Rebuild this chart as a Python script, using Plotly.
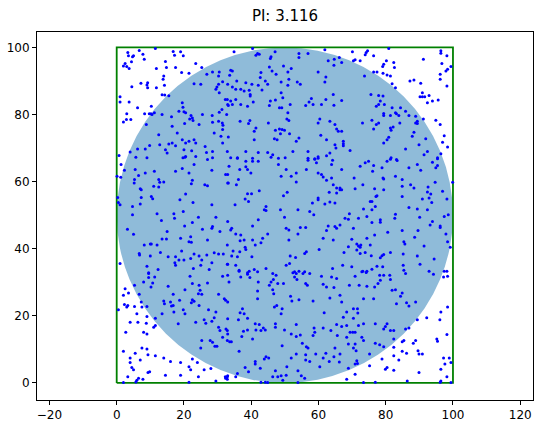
import plotly.graph_objects as go

title_text = "PI: 3.116"
square_x = [0, 100, 100, 0, 0]
square_y = [0, 0, 100, 100, 0]
circle_center = (50, 50)
circle_radius = 50
x_ticks = [-20, 0, 20, 40, 60, 80, 100, 120]
y_ticks = [0, 20, 40, 60, 80, 100]

points = [
# top-left
(11.5,99.7),(16.8,98.8),(19.0,98.7),(6.7,99.1),(3.3,98.5),(3.5,97.5),(5.0,97.5),(4.7,97.2),(7.8,98.0),(17.2,97.7),
(19.8,97.5),(8.2,96.5),(4.4,95.7),(2.5,95.2),(2.0,94.5),(3.0,94.3),(3.7,93.7),(11.8,93.7),(14.5,95.8),(14.8,94.0),
(17.5,94.0),(23.5,95.2),(25.3,94.0),(21.5,92.3),(19.3,92.5),(14.0,91.5),(13.8,90.5),(26.8,92.0),(28.5,92.7),(30.5,92.7),
(30.3,91.5),(31.5,89.8),(30.3,89.0),(29.8,88.2),(29.5,87.5),(33.0,89.0),(4.5,88.3),(7.2,89.3),(9.2,89.5),(9.0,88.8),
(9.2,88.0),(14.2,88.7),(23.0,89.2),(25.0,89.0),(11.8,88.0),(13.5,85.9),(14.3,85.8),(15.5,85.6),(1.0,85.3),(1.0,83.7),
(3.7,83.7),(10.3,82.5),(6.2,82.0),(8.3,80.2),(9.7,80.2),(10.2,80.2),(11.2,80.5),(3.0,80.2),(4.2,78.5),(2.9,78.5),
(2.0,77.8),(8.8,77.0),(19.5,83.5),(19.7,82.2),(18.5,81.0),(20.0,80.8),(20.5,80.5),(22.1,79.7),(22.5,79.0),(21.7,78.7),
(22.7,78.2),(13.5,80.0),(16.3,79.3),(24.5,77.0),(25.5,80.0),(28.4,79.7),(30.5,80.7),(31.3,81.5),(33.0,83.0),(32.3,84.5),
(30.5,86.5),(28.5,77.7),(30.3,78.0),(31.4,77.5),(31.6,76.8),(20.2,77.3),(16.5,76.5),(18.0,74.5),(12.5,74.0),(15.5,71.2),
(16.5,71.5),(19.5,72.5),(20.5,71.5),(21.5,72.0),(23.0,72.5),(23.5,71.5),(17.5,70.7),(14.5,69.5),(15.0,68.5),(12.8,71.0),
(9.8,70.8),(8.5,69.7),(6.2,69.7),(0.7,67.8),(4.0,68.8),(5.7,67.3),(20.0,69.5),(20.5,67.5),(22.3,69.2),(26.7,68.7),
(28.5,69.0),(31.5,71.5),(31.0,73.5),(31.5,75.5),(26.3,70.5),(23.5,67.5),(29.0,74.5),(10.5,80.0),
# top-middle
(34.9,98.7),(40.4,99.7),(41.9,98.2),(41.4,97.7),(42.4,98.0),(45.9,97.2),(45.7,96.7),(47.1,98.7),(54.2,98.2),(54.2,97.0),
(56.9,98.2),(61.9,99.3),(62.9,96.0),(64.7,96.5),(66.2,97.0),(64.6,94.7),(45.4,94.2),(46.2,93.0),(47.4,92.0),(49.6,94.5),
(50.9,92.7),(51.9,93.7),(33.9,93.2),(34.4,93.0),(33.6,91.7),(42.9,92.5),(42.7,91.0),(59.9,92.7),(44.2,90.0),(44.9,89.0),
(35.7,90.0),(38.4,89.5),(40.2,89.0),(42.1,88.7),(48.9,89.7),(51.2,90.5),(50.9,88.7),(53.7,89.7),(54.6,89.0),(61.9,89.7),
(62.2,91.2),(34.4,88.2),(35.4,87.5),(36.9,87.5),(37.9,87.0),(39.4,87.2),(39.7,86.0),(39.7,85.5),(43.2,87.3),(64.4,86.0),
(48.9,86.5),(49.4,85.0),(32.9,84.5),(33.9,84.0),(34.4,83.0),(33.2,82.7),(35.4,84.5),(36.9,83.0),(38.9,82.5),(40.6,83.7),
(45.7,84.0),(45.4,82.7),(47.2,84.3),(48.4,82.0),(49.1,82.0),(51.6,83.0),(56.2,82.7),(57.2,83.7),(57.9,84.8),(58.4,83.0),
(60.9,83.0),(62.2,84.5),(64.6,82.8),(32.7,80.0),(50.9,80.5),(50.6,78.7),(51.2,78.2),(36.7,78.0),(39.2,77.3),(39.6,78.2),
(45.1,77.5),(60.4,78.7),(59.9,77.5),(63.4,78.0),(64.9,77.0),(65.4,75.7),(65.9,75.0),(41.4,76.0),(40.9,75.0),(47.2,75.3),
(48.4,75.7),(49.2,75.5),(49.9,75.3),(48.7,74.3),(51.4,74.3),(33.2,73.3),(40.9,72.5),(46.9,72.8),(47.7,72.5),(53.4,72.0),
(54.2,73.0),(60.7,73.8),(62.4,72.5),(64.9,71.0),(65.2,70.0),(32.9,69.0),(35.9,67.0),(38.4,69.0),(42.1,68.7),(44.9,68.7),
(40.4,67.0),(46.4,68.0),(48.1,67.0),(52.4,69.0),(56.9,69.0),(56.9,67.0),(58.9,66.7),(59.9,67.0),(62.4,67.7),(63.4,68.5),
# top-right
(70.1,98.7),(70.4,96.0),(73.9,97.8),(74.2,98.5),(74.6,99.0),(76.4,97.5),(80.9,99.7),(96.4,99.0),(96.4,98.3),(98.2,97.5),
(70.9,96.3),(72.4,96.0),(66.9,95.5),(80.2,96.0),(82.4,95.5),(79.4,95.0),(79.1,94.3),(82.6,94.0),(91.2,96.5),(96.7,95.2),
(99.4,94.3),(98.4,93.5),(97.9,93.0),(76.4,92.7),(77.4,92.7),(79.2,92.3),(80.4,91.8),(81.4,91.5),(73.7,91.5),(81.9,89.2),
(82.9,88.0),(87.2,90.0),(88.4,90.3),(90.4,89.3),(96.2,92.0),(96.2,90.5),(98.2,88.5),(75.6,86.0),(77.9,85.7),(79.2,85.5),
(78.4,84.0),(77.9,83.0),(77.2,82.5),(90.9,86.5),(90.2,85.3),(90.9,85.3),(91.6,85.3),(92.9,85.7),(93.9,84.0),(92.4,83.5),
(95.6,84.3),(66.9,84.2),(79.6,83.0),(81.9,82.0),(84.4,82.0),(82.9,80.5),(79.4,80.3),(79.4,79.7),(81.4,79.7),(83.2,80.2),
(83.9,79.7),(85.9,81.0),(86.9,79.7),(88.9,79.5),(91.2,78.7),(94.9,78.3),(96.2,77.0),(75.9,78.3),(77.2,77.0),(77.9,77.5),
(73.1,77.5),(81.4,76.0),(81.6,75.3),(82.2,76.3),(84.2,77.5),(88.9,77.5),(89.4,78.0),(89.4,77.3),(66.9,75.0),(76.4,75.7),
(88.4,74.7),(87.9,73.5),(91.9,72.8),(97.4,73.7),(80.9,73.2),(80.4,72.5),(79.4,71.5),(89.9,71.0),(67.4,72.0),(67.4,71.3),
(67.4,70.7),(96.9,71.7),(98.4,70.3),(85.9,69.7),(69.4,69.3),(92.4,69.0),(91.4,68.0),(96.4,68.3),(95.4,66.8),(81.4,66.7),
(83.4,66.3),
# middle-left
(1.3,65.1),(2.3,63.4),(1.2,61.3),(0.1,61.6),(5.5,63.6),(6.5,61.8),(8.5,62.6),(9.0,67.1),(11.2,63.1),(5.3,60.6),
(5.2,59.6),(12.5,60.6),(12.8,59.8),(14.0,59.9),(11.0,58.6),(12.5,58.4),(17.5,63.1),(19.5,63.9),(21.5,62.6),(19.7,67.1),
(20.3,67.3),(23.0,65.1),(22.5,60.4),(22.2,59.4),(27.0,66.6),(28.5,67.1),(28.3,63.4),(26.2,59.1),(27.0,58.8),(33.0,62.1),
(7.0,57.9),(7.3,57.6),(7.3,55.3),(7.0,53.3),(10.3,55.6),(10.7,54.9),(0.3,55.3),(0.5,53.8),(1.0,53.1),(4.7,52.6),
(4.7,50.1),(20.5,56.3),(18.8,54.6),(22.7,53.8),(28.3,53.1),(33.0,59.6),(12.0,50.4),(13.3,48.4),(17.0,50.4),(17.2,49.1),
(19.8,51.1),(24.3,49.4),(22.5,47.8),(29.5,49.4),(28.5,46.6),(28.3,46.1),(33.0,48.1),(20.2,46.8),(3.2,45.8),(5.0,44.3),
(15.0,45.1),(25.5,45.8),(30.7,45.1),(13.5,42.9),(14.8,42.9),(19.0,43.1),(22.0,43.6),(21.5,42.1),(22.2,41.9),(8.2,41.1),
(10.0,41.4),(10.3,41.4),(12.0,41.1),(27.0,42.6),(6.7,38.6),(6.8,38.1),(13.0,38.9),(19.3,39.3),(17.5,37.6),(23.0,38.4),
(24.5,37.8),(26.8,38.1),(29.0,38.8),(30.3,38.4),(31.7,38.4),(10.0,37.8),(15.3,37.6),(18.5,36.6),(17.3,35.8),(17.5,35.1),
(20.0,36.6),(22.0,37.1),(25.3,36.6),(25.0,35.1),(1.0,35.6),(9.0,34.8),(12.3,33.8),(22.8,34.1),(28.3,35.8),(27.5,33.8),
(33.0,35.4),(9.5,32.6),
# center
(33.9,67.1),(35.9,67.1),(38.4,66.1),(40.4,66.1),(42.1,66.1),(45.9,67.3),(48.1,65.1),(50.1,67.1),(56.9,66.4),(58.9,66.8),
(59.4,65.6),(59.9,67.4),(64.2,66.4),(63.9,65.1),(33.4,64.6),(32.4,62.1),(33.2,59.6),(36.6,63.6),(38.4,64.4),(38.9,63.6),
(39.9,62.6),(50.4,63.6),(53.4,62.6),(51.9,61.6),(53.4,59.9),(48.9,61.6),(56.4,63.6),(59.9,62.6),(60.9,62.1),(61.4,61.4),
(62.4,60.4),(63.9,61.1),(64.4,59.1),(65.4,58.1),(66.4,57.6),(36.2,60.6),(35.6,59.1),(42.4,57.3),(38.9,56.4),(40.1,56.4),
(38.2,54.8),(39.2,54.1),(50.7,56.8),(49.6,55.8),(63.2,56.8),(65.4,56.6),(64.9,53.6),(63.4,53.9),(59.9,55.1),(59.9,54.6),
(58.2,53.6),(61.9,53.3),(35.2,53.1),(44.4,52.6),(43.9,51.6),(44.4,51.4),(48.7,51.6),(53.9,51.6),(57.4,51.1),(58.6,50.1),
(49.9,49.4),(42.1,48.6),(40.4,46.8),(34.2,46.1),(33.9,45.6),(50.4,46.1),(51.2,45.6),(54.6,46.3),(56.2,46.3),(62.9,46.8),
(62.4,45.4),(64.9,46.6),(65.4,46.1),(35.4,44.4),(36.9,44.1),(37.9,42.6),(36.7,42.4),(44.9,44.4),(43.4,43.1),(53.9,44.4),
(51.2,42.6),(61.4,43.1),(64.4,42.6),(40.4,42.6),(42.9,41.8),(41.2,41.1),(38.2,40.4),(38.4,39.8),(34.6,39.3),(36.6,39.1),
(60.2,39.8),(56.4,39.1),(55.9,38.6),(32.9,41.1),(34.2,37.8),(35.9,37.6),(40.2,37.6),(51.6,37.8),(53.2,37.4),(32.9,35.4),
(35.4,35.1),(36.4,33.6),(40.9,33.8),(44.4,34.1),(50.4,35.1),(51.4,35.6),(52.9,33.1),(53.4,32.6),(55.9,33.1),(64.2,34.1),
(38.9,32.8),
# middle-right
(72.4,64.6),(73.9,65.6),(74.9,66.1),(76.4,64.8),(80.4,66.1),(81.6,67.1),(83.2,66.6),(89.4,65.1),(90.4,63.4),(86.9,64.1),
(93.9,65.8),(95.4,67.1),(94.9,64.1),(95.4,64.8),(78.9,64.1),(76.1,63.1),(66.9,63.6),(70.6,61.1),(79.2,61.1),(79.4,60.8),
(82.9,61.6),(84.9,60.6),(84.9,58.6),(87.4,59.1),(88.4,58.1),(94.7,59.8),(92.6,58.4),(92.4,56.9),(93.4,56.3),(96.9,57.1),
(98.2,54.8),(99.9,59.8),(70.9,57.9),(73.2,59.1),(66.4,58.1),(66.9,57.6),(76.7,57.9),(79.4,57.6),(77.1,55.6),(77.4,55.8),
(75.4,54.1),(75.9,54.1),(76.9,52.6),(84.9,55.6),(90.9,54.8),(92.9,55.1),(93.7,53.8),(92.4,51.6),(73.4,51.8),(75.9,51.6),
(86.9,52.3),(89.4,51.8),(69.2,50.4),(67.9,49.1),(68.9,48.8),(71.9,49.1),(74.4,49.6),(82.9,50.3),(82.7,49.1),(78.4,48.6),
(78.4,47.9),(75.9,47.8),(90.1,49.4),(93.9,48.1),(93.2,47.1),(97.4,49.6),(98.6,50.1),(96.2,46.8),(96.2,46.3),(70.4,46.1),
(66.4,47.1),(84.9,45.4),(80.6,44.9),(89.6,45.4),(88.6,43.4),(76.7,44.1),(74.4,43.1),(97.9,44.4),(69.9,42.8),(68.9,40.6),
(67.6,38.9),(71.4,41.4),(71.9,40.8),(72.4,40.4),(72.6,41.1),(71.4,39.6),(75.4,41.1),(73.9,38.9),(75.7,37.9),(72.4,38.6),
(85.4,42.1),(85.7,41.4),(85.2,38.4),(91.4,40.8),(98.4,42.1),(99.2,40.4),(79.4,38.3),(78.9,37.9),(78.4,37.3),(81.4,38.9),
(89.4,37.8),(94.4,36.9),(67.2,35.1),(69.9,34.6),(72.9,33.1),(74.2,32.9),(75.9,33.9),(77.4,34.8),(79.1,34.6),(85.2,35.1),
(85.4,33.6),(90.2,35.4),(92.9,33.3),(98.2,33.3),
# bottom-left
(9.5,32.8),(9.5,31.4),(11.3,31.6),(10.7,29.8),(10.2,28.6),(8.0,30.1),(5.3,29.1),(2.5,28.1),(3.5,26.8),(2.0,26.1),
(6.7,26.4),(21.8,31.8),(22.5,29.6),(24.5,29.1),(27.0,29.8),(31.5,31.8),(33.0,32.1),(15.3,28.8),(20.3,27.8),(24.8,27.6),
(25.3,26.4),(24.3,26.6),(16.8,26.4),(14.0,24.4),(14.2,23.6),(16.0,24.1),(16.3,22.9),(18.7,24.6),(22.5,24.8),(22.2,23.9),
(23.0,24.3),(30.3,26.4),(32.0,25.1),(33.0,24.1),(7.3,24.1),(2.3,23.4),(3.3,23.1),(3.0,22.6),(5.3,22.8),(7.5,22.6),
(9.0,22.8),(0.5,21.8),(16.8,23.1),(17.0,21.1),(19.8,21.8),(20.3,20.6),(13.5,20.6),(24.5,23.1),(27.3,21.8),(29.5,21.1),
(29.0,19.4),(33.0,19.1),(6.0,20.6),(9.0,19.8),(11.5,19.3),(8.8,17.8),(6.3,18.1),(4.0,18.1),(18.3,17.6),(26.0,18.8),
(26.5,17.8),(28.3,18.4),(23.5,18.1),(11.5,17.1),(11.0,16.6),(30.3,16.6),(30.7,15.6),(32.5,16.1),(33.0,14.6),(31.5,13.6),
(2.7,15.1),(8.0,15.1),(9.0,14.6),(25.3,12.6),(27.8,12.6),(28.5,12.1),(29.2,10.9),(29.8,10.9),(25.0,10.4),(2.0,9.4),
(7.5,10.4),(9.0,10.1),(5.5,8.8),(9.3,8.4),(4.0,7.4),(4.0,6.1),(7.0,6.8),(11.5,8.1),(14.0,7.4),(16.0,6.4),
(19.0,6.1),(22.5,7.1),(24.0,6.1),(4.5,4.6),(5.0,3.9),(21.5,4.8),(22.0,3.9),(26.0,3.9),(28.0,4.3),(9.3,3.1),
(9.8,3.3),(14.5,2.3),(19.0,2.3),(24.3,1.8),(32.3,1.8),(33.0,2.1),(3.3,1.8),(6.0,0.8),(5.7,0.3),(6.5,1.4),
(7.8,1.1),(29.5,0.6),(2.0,0.1),(21.5,0.2),
# bottom-middle
(36.4,33.3),(39.4,33.3),(41.9,33.1),(46.4,32.6),(47.4,32.1),(52.4,32.8),(52.9,31.6),(54.2,33.3),(55.4,32.6),(57.4,32.6),
(60.9,31.8),(63.9,31.6),(65.4,31.1),(36.9,31.6),(38.9,32.4),(39.6,31.4),(33.4,30.1),(42.1,30.1),(45.4,29.1),(45.9,30.1),
(46.6,30.8),(47.9,29.6),(49.6,29.6),(53.6,30.8),(56.2,29.6),(56.7,29.1),(61.4,29.4),(62.4,28.6),(64.6,28.4),(41.9,27.4),
(46.4,27.8),(46.7,26.6),(41.9,25.1),(51.7,25.8),(52.1,24.4),(54.2,24.8),(58.4,24.4),(63.4,25.3),(66.4,26.1),(32.4,24.6),
(46.9,22.6),(47.6,23.1),(49.2,22.1),(48.9,20.6),(37.4,22.1),(36.7,20.9),(37.9,20.6),(36.2,18.8),(38.9,19.3),(61.7,20.9),
(41.2,17.6),(42.4,17.4),(41.4,15.8),(42.9,15.6),(43.6,16.4),(44.2,15.8),(47.2,17.6),(47.2,16.6),(49.9,15.8),(53.4,17.4),
(51.9,14.6),(53.4,13.8),(54.6,14.3),(58.7,16.4),(58.9,15.1),(58.4,14.1),(61.4,16.4),(63.7,15.6),(65.4,17.4),(32.9,15.6),
(38.9,15.8),(37.7,15.4),(37.2,13.8),(40.4,13.1),(65.6,14.1),(32.9,12.6),(33.6,12.3),(34.1,12.3),(49.2,11.1),(55.2,11.8),
(56.4,10.8),(56.9,10.4),(64.9,10.4),(66.4,8.6),(36.4,9.4),(44.4,7.8),(45.2,7.4),(43.9,7.1),(51.9,7.4),(53.4,8.6),
(56.2,8.4),(56.2,6.8),(59.2,8.6),(62.2,8.8),(61.4,7.4),(64.6,7.8),(41.2,6.4),(41.2,5.6),(50.6,4.8),(57.4,6.4),
(60.4,4.8),(63.2,6.4),(66.2,6.2),(38.2,4.6),(42.7,4.4),(39.2,3.3),(35.9,2.8),(35.4,1.8),(47.2,3.6),(53.9,3.6),
(54.9,2.1),(55.9,1.4),(50.4,2.3),(46.4,1.8),(47.9,1.8),(48.9,2.1),(49.4,0.8),(32.9,1.8),(32.9,1.1),(32.4,1.4),
(42.9,0.2),(44.2,0.2),(44.9,0.1),(53.9,0.1),
# bottom-right
(70.9,31.8),(73.2,33.3),(74.4,33.3),(78.2,32.1),(79.4,32.1),(81.2,32.1),(81.4,30.8),(85.9,32.6),(94.2,32.4),(97.4,33.3),
(98.4,31.8),(97.2,31.6),(78.4,30.6),(77.7,29.6),(76.7,28.6),(72.1,29.1),(74.4,28.8),(69.2,29.1),(81.9,27.6),(82.9,27.8),
(84.9,26.8),(84.4,25.8),(83.2,23.6),(86.2,23.9),(86.9,22.9),(88.9,24.1),(73.4,25.1),(76.4,25.1),(66.9,24.1),(70.4,22.1),
(71.6,22.1),(71.7,20.8),(68.4,21.1),(96.4,21.1),(98.4,22.6),(92.2,19.4),(89.4,18.8),(96.1,18.8),(67.4,19.6),(70.4,19.3),
(73.4,17.6),(71.9,17.1),(68.4,17.1),(66.9,16.8),(76.9,17.6),(80.4,17.6),(79.9,16.8),(79.4,16.1),(81.4,15.6),(82.4,15.6),
(85.9,16.1),(86.9,16.4),(69.4,15.1),(70.2,15.1),(70.9,15.1),(72.9,13.6),(73.4,12.6),(68.4,13.6),(82.4,13.1),(84.9,12.3),
(85.4,12.6),(88.2,11.8),(88.9,12.6),(95.2,13.1),(95.4,12.4),(98.2,14.4),(68.9,11.6),(70.9,11.6),(70.4,10.4),(71.2,9.6),
(76.9,11.8),(78.2,11.4),(79.4,10.8),(82.4,10.6),(89.6,9.6),(89.9,8.6),(90.9,8.6),(86.2,8.8),(84.9,9.4),(75.2,8.6),
(82.4,8.1),(78.9,7.1),(83.9,6.8),(97.2,7.4),(98.9,7.4),(99.4,6.1),(97.6,5.6),(71.4,6.6),(70.9,5.6),(71.6,5.8),
(75.2,5.1),(68.9,4.4),(80.4,4.6),(79.9,4.1),(82.4,3.8),(89.9,3.1),(96.4,4.1),(98.2,1.8),(96.2,0.2),(70.9,2.6),
(68.4,1.1),(73.4,0.1),(76.9,0.2),(86.4,0.6),(96.4,0.6),(99.4,0.1),
]

sample_x = [p[0] for p in points]
sample_y = [p[1] for p in points]

fig = go.Figure()
cx, cy = circle_center
fig.add_shape(type="circle", xref="x", yref="y",
              x0=cx - circle_radius, x1=cx + circle_radius,
              y0=cy - circle_radius, y1=cy + circle_radius,
              fillcolor="rgba(31,119,180,0.5)", line=dict(width=0), layer="below")
fig.add_trace(go.Scatter(x=square_x, y=square_y, mode="lines",
                         line=dict(color="#008000", width=1.8), hoverinfo="skip"))
fig.add_trace(go.Scatter(x=sample_x, y=sample_y, mode="markers",
                         marker=dict(color="#0000ff", size=3, line=dict(width=0))))

axis_common = dict(showgrid=False, zeroline=False, showline=True, linecolor="black",
                   linewidth=1, mirror=True, ticks="outside", ticklen=4, tickwidth=1,
                   tickcolor="black", automargin=False,
                   tickfont=dict(family="DejaVu Sans", size=12, color="black"))
fig.update_xaxes(range=[-23.7, 123.8], tickvals=x_ticks, **axis_common)
fig.update_yaxes(range=[-5.1, 104.6], tickvals=y_ticks, **axis_common)

fig.update_layout(
    width=554, height=431,
    margin=dict(l=37, r=21, t=32, b=31),
    plot_bgcolor="white", paper_bgcolor="white",
    showlegend=False,
    title=dict(text=title_text, x=(37 + 533) / 2 / 554, xanchor="center",
               y=1 - 16 / 431, yanchor="middle", automargin=False,
               font=dict(family="DejaVu Sans", size=15, color="black")),
)
fig.write_html("out.html", config={"displayModeBar": False},
               post_script="document.body.style.margin='0';document.body.style.overflow='hidden';")
